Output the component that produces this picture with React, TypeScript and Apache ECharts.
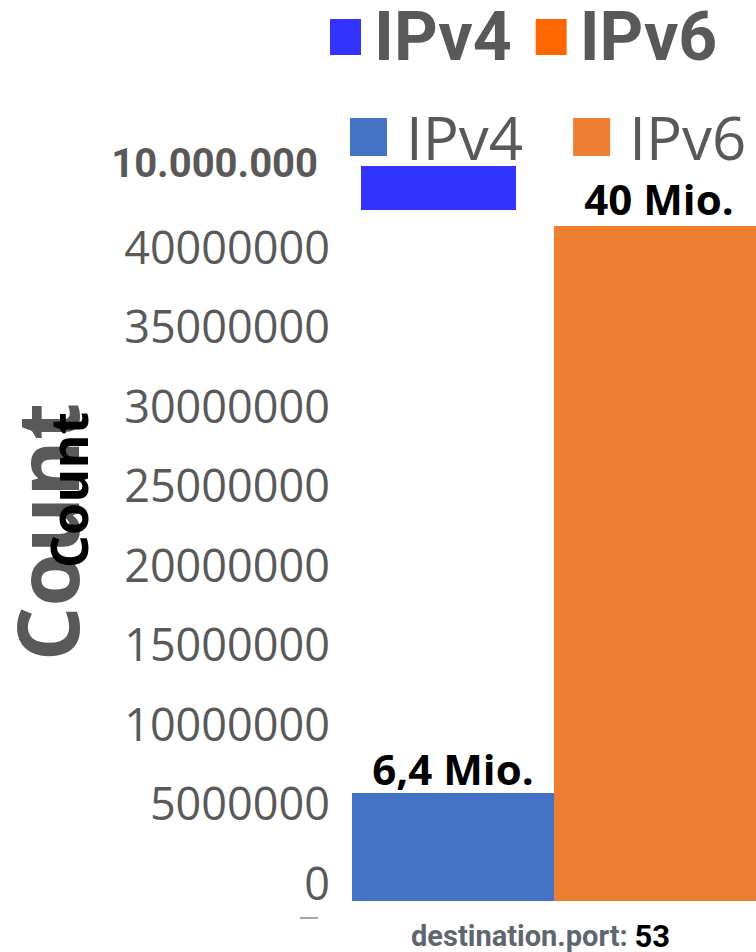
import React, { useEffect, useRef } from "react";
import * as echarts from "echarts";

const categories = ["53"];
const axisPrefix = "destination.port:";
const seriesNames = ["IPv4", "IPv6"];
const ipv4Values = [6400000];
const ipv6Values = [40000000];
const barLabels = ["6,4 Mio.", "40 Mio."];
const tickMin = 0;
const tickMax = 40000000;
const tickInterval = 5000000;
const fragmentCategories = ["IPv4"];
const fragmentValues = [10443571];
const overlayTick = "10.000.000";
const axisTitle = "Count";

const mainColors = ["#4472c4", "#ed7d31"];
const altColors = ["#3333ff", "#ff6600"];

export default function App() {
  const ref = useRef<HTMLDivElement>(null);
  useEffect(() => {
    if (!ref.current) return;
    const chart = echarts.init(ref.current, null, { renderer: "svg" });
    const option: any = {
      animation: false,
      backgroundColor: "#ffffff",
      legend: [
        {
          left: 330,
          top: 3,
          padding: 0,
          itemWidth: 31,
          itemHeight: 36,
          itemGap: 24,
          icon: "rect",
          selectedMode: false,
          textStyle: {
            fontFamily: "Roboto",
            fontWeight: "bold",
            fontSize: 68,
            lineHeight: 56,
            color: "#595959",
            padding: [0, 0, 0, 8],
          },
          data: seriesNames.map((n, i) => ({ name: n, itemStyle: { color: altColors[i] } })),
        },
        {
          left: 350,
          top: 107,
          padding: 0,
          itemWidth: 37,
          itemHeight: 38,
          itemGap: 50,
          icon: "rect",
          selectedMode: false,
          textStyle: {
            fontFamily: "Open Sans",
            fontSize: 60,
            color: "#595959",
            padding: [0, 0, 0, 14],
          },
          data: seriesNames.map((n, i) => ({ name: n, itemStyle: { color: mainColors[i] } })),
        },
      ],
      grid: [
        { left: 340, top: 246, height: 636, width: 10 },
        { left: 352, top: 226, height: 675, width: 404 },
        { left: 361, top: 166, height: 44, width: 155 },
      ],
      xAxis: [
        { gridIndex: 0, type: "category", data: categories, show: false },
        {
          gridIndex: 1,
          type: "category",
          data: categories,
          axisLine: { show: false },
          axisTick: { show: false },
          axisLabel: {
            margin: 20,
            padding: [0, 27, 0, 0],
            formatter: (v: string) => `{a|${axisPrefix}}  {b|${v}}`,
            rich: {
              a: { fontFamily: "Roboto", fontWeight: "bold", fontSize: 29, lineHeight: 30, color: "#5f6670" },
              b: { fontFamily: "Roboto", fontWeight: "bold", fontSize: 31, lineHeight: 30, color: "#000000" },
            },
          },
        },
        { gridIndex: 2, type: "value", min: 0, max: fragmentValues[0], show: false },
      ],
      yAxis: [
        {
          gridIndex: 0,
          type: "value",
          min: tickMin,
          max: tickMax,
          interval: tickInterval,
          axisLine: { show: false },
          axisTick: { show: false },
          splitLine: { show: false },
          axisLabel: {
            margin: 10,
            formatter: (v: number) => String(v),
            fontFamily: "Open Sans",
            fontSize: 45,
            color: "#595959",
          },
        },
        { gridIndex: 1, type: "value", min: tickMin, max: tickMax, show: false },
        { gridIndex: 2, type: "category", data: fragmentCategories, show: false },
      ],
      series: [
        {
          name: seriesNames[0],
          type: "bar",
          xAxisIndex: 1,
          yAxisIndex: 1,
          data: ipv4Values,
          barWidth: 202,
          barGap: "0%",
          itemStyle: { color: mainColors[0] },
          label: {
            show: true,
            position: "top",
            distance: 4,
            formatter: () => barLabels[0],
            fontFamily: "Open Sans",
            fontWeight: "bold",
            fontSize: 42,
            color: "#000000",
          },
        },
        {
          name: seriesNames[1],
          type: "bar",
          xAxisIndex: 1,
          yAxisIndex: 1,
          data: ipv6Values,
          barWidth: 202,
          barGap: "0%",
          itemStyle: { color: mainColors[1] },
          label: {
            show: true,
            position: "top",
            distance: 7,
            offset: [4, 0],
            formatter: () => barLabels[1],
            fontFamily: "Open Sans",
            fontWeight: "bold",
            fontSize: 42,
            color: "#000000",
          },
        },
        {
          name: seriesNames[0],
          type: "bar",
          xAxisIndex: 2,
          yAxisIndex: 2,
          data: fragmentValues,
          barWidth: "100%",
          itemStyle: { color: altColors[0] },
        },
      ],
      graphic: [
        {
          type: "text",
          x: 318,
          y: 163,
          style: {
            text: overlayTick,
            fontFamily: "Roboto",
            fontWeight: "bold",
            fontSize: 40,
            fill: "#595959",
            align: "right",
            verticalAlign: "middle",
          },
        },
        {
          type: "text",
          x: 45,
          y: 532,
          rotation: Math.PI / 2,
          style: {
            text: axisTitle,
            fontFamily: "Open Sans",
            fontWeight: "bold",
            fontSize: 86,
            fill: "#595959",
            align: "center",
            verticalAlign: "middle",
          },
        },
        {
          type: "text",
          x: 67,
          y: 490,
          rotation: Math.PI / 2,
          style: {
            text: axisTitle,
            fontFamily: "Open Sans",
            fontWeight: "bold",
            fontSize: 52,
            fill: "#000000",
            align: "center",
            verticalAlign: "middle",
          },
        },
        {
          type: "line",
          shape: { x1: 300, y1: 918, x2: 318, y2: 918 },
          style: { stroke: "#8a8a8a", lineWidth: 1.5 },
        },
      ],
    };
    chart.setOption(option);
    return () => chart.dispose();
  }, []);
  return (
    <div
      ref={ref}
      style={{ position: "absolute", left: 0, top: 0, width: 756, height: 952 }}
    />
  );
}
